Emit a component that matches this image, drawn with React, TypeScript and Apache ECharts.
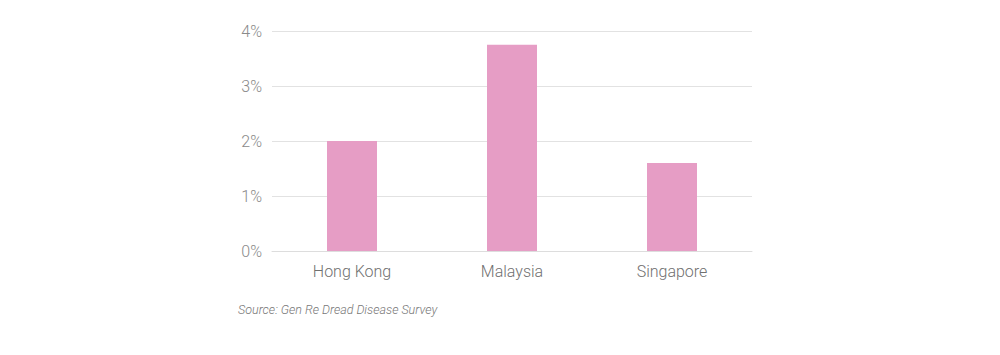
import React, { useEffect, useRef } from "react";
import * as echarts from "echarts";

const categories = ["Hong Kong", "Malaysia", "Singapore"];
const values = [2.0, 3.75, 1.6];
const yTicks = [0, 1, 2, 3, 4];
const sourceText = "Source: Gen Re Dread Disease Survey";

export default function App() {
  const ref = useRef<HTMLDivElement>(null);
  useEffect(() => {
    if (!ref.current) return;
    const chart = echarts.init(ref.current, undefined, { renderer: "svg" });
    chart.setOption({
      animation: false,
      backgroundColor: "#ffffff",
      grid: { left: 272, right: 248, top: 31, bottom: 104, containLabel: false },
      xAxis: {
        type: "category",
        data: categories,
        axisLine: { show: true, lineStyle: { color: "#dddddd", width: 1 } },
        axisTick: { show: false },
        axisLabel: {
          color: "#707070",
          fontSize: 16,
          fontFamily: "Roboto, Inter, sans-serif",
          fontWeight: 300,
          margin: 12,
        },
      },
      yAxis: {
        type: "value",
        min: yTicks[0],
        max: yTicks[yTicks.length - 1],
        interval: 1,
        axisLine: { show: false },
        axisTick: { show: false },
        splitLine: { lineStyle: { color: "#e2e2e2", width: 1 } },
        axisLabel: {
          color: "#8a8a8a",
          fontSize: 16,
          fontFamily: "Roboto, Inter, sans-serif",
          fontWeight: 300,
          margin: 10,
          formatter: (v: number) => `${v}%`,
        },
      },
      series: [
        {
          type: "bar",
          data: values,
          barWidth: 50,
          itemStyle: { color: "#e69dc5" },
        },
      ],
      graphic: [
        {
          type: "text",
          left: 238,
          top: 303,
          style: {
            text: sourceText,
            fill: "#777777",
            font: "italic 300 12.5px Roboto, Inter, sans-serif",
          },
        },
      ],
    });
    return () => chart.dispose();
  }, []);
  return <div ref={ref} style={{ width: 1000, height: 355, position: "absolute", left: 0, top: 0 }} />;
}
